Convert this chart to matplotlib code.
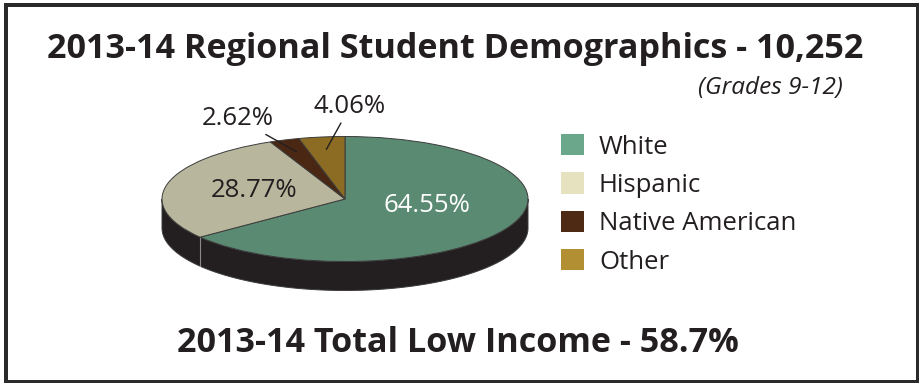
import numpy as np
import matplotlib
matplotlib.use("Agg")
import matplotlib.pyplot as plt
from matplotlib.patches import Patch, Rectangle

categories = ["White", "Hispanic", "Native American", "Other"]
shares = [64.55, 28.77, 2.62, 4.06]
top_colors = ["#5a8a72", "#b8b69c", "#4a2713", "#8c6c22"]
key_colors = ["#6ba88b", "#e6e2c0", "#4e2a14", "#b38f33"]
title = "2013-14 Regional Student Demographics - 10,252"
subtitle = "(Grades 9-12)"
footer_label = "2013-14 Total Low Income"
low_income = 58.7

W, H = 920, 383
ink = "#231f20"
plt.rcParams["font.family"] = ["Open Sans", "DejaVu Sans"]

fig = plt.figure(figsize=(W / 100, H / 100), dpi=100)


def fx(px):
    return px / W


def fy(py):
    return 1 - py / H


def fit_size(s, target_px, weight="normal", style="normal"):
    # font size that makes the string target_px wide
    t = fig.text(0, 0, s, fontsize=20, fontweight=weight, fontstyle=style)
    w = t.get_window_extent(fig.canvas.get_renderer()).width
    t.remove()
    return 20 * target_px / w


# pie ellipse (pixels): centre, radii, side depth
cx, cy, rx, ry, depth_px = 345, 199, 183, 62.5, 29
x0, x1, y0, y1 = -1.1, 1.1, -1.8, 1.3
ax = fig.add_axes([fx(cx + x0 * rx), fy(cy - y0 * ry),
                   (x1 - x0) * rx / W, (y1 - y0) * ry / H])

wedges, _ = ax.pie(shares, colors=top_colors, startangle=90, counterclock=False,
                   wedgeprops=dict(edgecolor="#3c3c3c", linewidth=0.7))
ax.set_aspect("auto")
ax.set_xlim(x0, x1)
ax.set_ylim(y0, y1)
ax.axis("off")

# dark rim under the front half
depth = depth_px / ry
t = np.linspace(np.pi, 2 * np.pi, 200)
side_x = np.concatenate([np.cos(t), np.cos(t[::-1])])
side_y = np.concatenate([np.sin(t), np.sin(t[::-1]) - depth])
ax.fill(side_x, side_y, facecolor=ink, edgecolor="#3c3c3c", lw=0.7, zorder=0)

edges_deg = 90 - 360 * np.cumsum(shares) / np.sum(shares)
for a in np.radians(edges_deg):
    if np.sin(a) < 0:
        ax.plot([np.cos(a)] * 2, [np.sin(a), np.sin(a) - depth],
                color="#8a8a8a", lw=0.8, zorder=0.5)

# percentage labels (x centre, baseline in pixels)
label_pos = [(426.5, 212), (254.5, 197), (237.5, 125), (350, 113)]
label_colors = ["white", ink, ink, ink]
callout = [False, False, True, True]
pct_fs = fit_size("64.55%", 87)

for w, v, (px, py), c, leader in zip(wedges, shares, label_pos, label_colors, callout):
    txt = f"{v:.2f}%"
    if leader:
        mid = np.radians((w.theta1 + w.theta2) / 2)
        ax.annotate(txt, xy=(0.8 * np.cos(mid), 0.8 * np.sin(mid)), xycoords="data",
                    xytext=(fx(px), fy(py)), textcoords="figure fraction",
                    ha="center", va="baseline", fontsize=pct_fs, color=c,
                    arrowprops=dict(arrowstyle="-", color=ink, lw=1, shrinkA=1, shrinkB=0))
    else:
        fig.text(fx(px), fy(py), txt, ha="center", va="baseline", fontsize=pct_fs, color=c)

# legend
key_fs = fit_size("Native American", 197)
fs_px = key_fs * 100 / 72
handles = [Patch(facecolor=c, edgecolor="none") for c in key_colors]
fig.legend(handles, categories, loc="upper left", bbox_to_anchor=(fx(561), fy(134)),
           frameon=False, fontsize=key_fs, labelcolor=ink,
           handlelength=23 / fs_px, handleheight=23 / fs_px, handletextpad=15 / fs_px,
           labelspacing=0.5, borderpad=0, borderaxespad=0)

# titles
fig.text(fx(455.5), fy(58), title, ha="center", va="baseline", color=ink,
         fontsize=fit_size(title, 817, "bold"), fontweight="bold")
fig.text(fx(843), fy(94), subtitle, ha="right", va="baseline", color=ink,
         fontsize=fit_size(subtitle, 145, style="italic"), fontstyle="italic")
footer = f"{footer_label} - {low_income}%"
fig.text(fx(457.5), fy(352), footer, ha="center", va="baseline", color=ink,
         fontsize=fit_size(footer, 561, "bold"), fontweight="bold")

# outer frame
fig.add_artist(Rectangle((fx(6), fy(381.5)), fx(918.5) - fx(6), fy(5) - fy(381.5),
                         transform=fig.transFigure, fill=False,
                         edgecolor="#2a2a2a", lw=4 * 0.72))

fig.savefig("out.png", dpi=100)
